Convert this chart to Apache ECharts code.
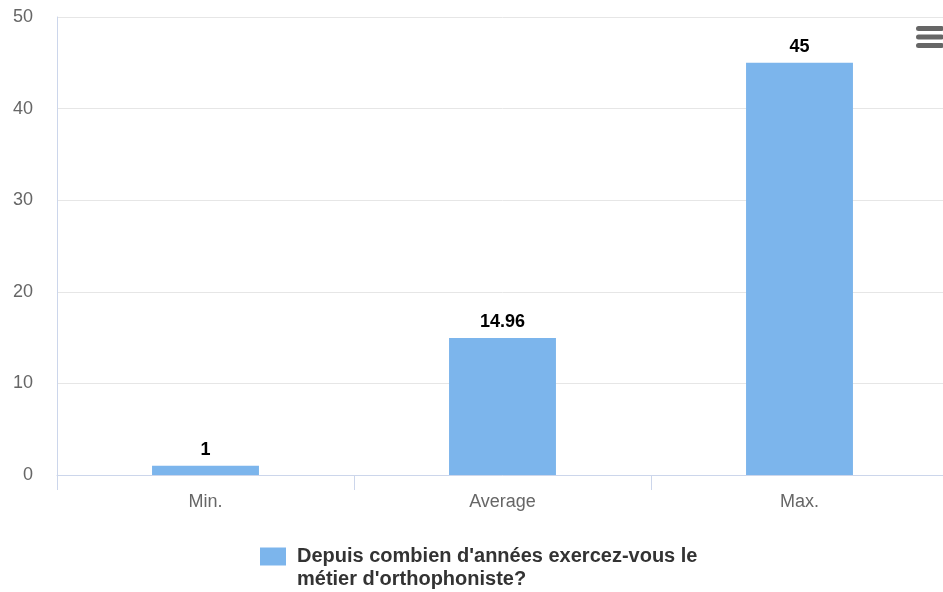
<!DOCTYPE html>
<html>
<head>
<meta charset="utf-8">
<script src="https://cdn.jsdelivr.net/npm/echarts@6/dist/echarts.min.js"></script>
<style>
  html, body { margin: 0; padding: 0; background: #fff; overflow: hidden; }
  /* canvas is a little wider than the window so the plot runs off the right edge */
  #chart { width: 948px; height: 592px; }
</style>
</head>
<body>
<div id="chart"></div>
<script>
const categories = ['Min.', 'Average', 'Max.'];
const values = [1, 14.96, 45];
const seriesName = "Depuis combien d'années exercez-vous le\nmétier d'orthophoniste?";

const font = '"Liberation Sans", Arial, Helvetica, sans-serif';
const chart = echarts.init(document.getElementById('chart'), null, { renderer: 'canvas' });

chart.setOption({
  animation: false,
  backgroundColor: '#ffffff',
  textStyle: { fontFamily: font },
  grid: { left: 57, right: 0, top: 17, height: 458, containLabel: false },
  xAxis: {
    type: 'category',
    data: categories,
    axisLine: { show: true, lineStyle: { color: '#ccd6eb', width: 1 } },
    axisTick: { show: true, length: 15, lineStyle: { color: '#ccd6eb' } },
    axisLabel: { color: '#666666', fontSize: 18, margin: 18, fontFamily: font }
  },
  yAxis: {
    type: 'value',
    min: 0,
    max: 50,
    interval: 10,
    axisLine: { show: true, lineStyle: { color: '#ccd6eb', width: 1 } },
    axisTick: { show: false },
    axisLabel: { color: '#666666', fontSize: 18, margin: 24, padding: [4, 0, 0, 0], fontFamily: font },
    splitLine: { lineStyle: { color: '#e6e6e6', width: 1 } }
  },
  legend: {
    left: 255,
    top: 517,
    itemWidth: 26,
    itemHeight: 18,
    icon: 'rect',
    selectedMode: false,
    // a leading blank line keeps the first text line level with the swatch
    formatter: name => '\n' + name,
    textStyle: {
      color: '#333333',
      fontSize: 20,
      fontWeight: 'bold',
      fontFamily: font,
      lineHeight: 23,
      padding: [0, 0, 0, 6]
    },
    data: [seriesName]
  },
  graphic: [
    {
      // export menu glyph
      type: 'group',
      left: 916,
      top: 26,
      children: [
        { type: 'rect', shape: { x: 0, y: 0, width: 28, height: 5, r: 2.5 }, style: { fill: '#666666' } },
        { type: 'rect', shape: { x: 0, y: 8.5, width: 28, height: 5, r: 2.5 }, style: { fill: '#666666' } },
        { type: 'rect', shape: { x: 0, y: 17, width: 28, height: 5, r: 2.5 }, style: { fill: '#666666' } }
      ]
    }
  ],
  series: [
    {
      name: seriesName,
      type: 'bar',
      data: values,
      barWidth: '36%',
      itemStyle: { color: '#7cb5ec' },
      label: {
        show: true,
        position: 'top',
        distance: 7,
        color: '#000000',
        fontSize: 18,
        fontWeight: 'bold',
        fontFamily: font
      }
    }
  ]
});
</script>
</body>
</html>
